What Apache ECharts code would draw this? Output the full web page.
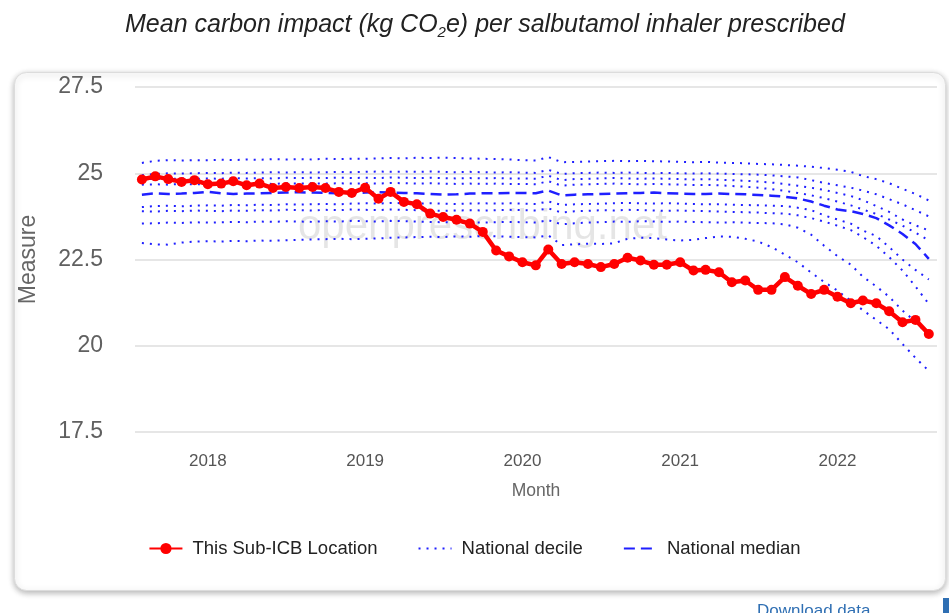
<!DOCTYPE html>
<html>
<head>
<meta charset="utf-8">
<script src="https://cdn.jsdelivr.net/npm/echarts@6/dist/echarts.min.js"></script>
<style>
  html, body { margin: 0; padding: 0; background: #fff; }
  #chart { width: 949px; height: 613px; }
</style>
</head>
<body>
<div id="chart"></div>
<script>
// months (first of month)
const months = [
  '2017-08', '2017-09', '2017-10', '2017-11', '2017-12',
  '2018-01', '2018-02', '2018-03', '2018-04', '2018-05', '2018-06', '2018-07', '2018-08', '2018-09', '2018-10', '2018-11', '2018-12',
  '2019-01', '2019-02', '2019-03', '2019-04', '2019-05', '2019-06', '2019-07', '2019-08', '2019-09', '2019-10', '2019-11', '2019-12',
  '2020-01', '2020-02', '2020-03', '2020-04', '2020-05', '2020-06', '2020-07', '2020-08', '2020-09', '2020-10', '2020-11', '2020-12',
  '2021-01', '2021-02', '2021-03', '2021-04', '2021-05', '2021-06', '2021-07', '2021-08', '2021-09', '2021-10', '2021-11', '2021-12',
  '2022-01', '2022-02', '2022-03', '2022-04', '2022-05', '2022-06', '2022-07', '2022-08'
];

// This Sub-ICB Location
const localValues = [
  24.82, 24.91, 24.83, 24.75, 24.80,
  24.68, 24.70, 24.77, 24.65, 24.70, 24.57, 24.60, 24.57, 24.60, 24.57, 24.46, 24.43,
  24.58, 24.26, 24.46, 24.17, 24.10, 23.83, 23.73, 23.65, 23.54, 23.30, 22.76, 22.59,
  22.42, 22.33, 22.79, 22.37, 22.42, 22.37, 22.28, 22.37, 22.55, 22.47, 22.35, 22.35,
  22.42, 22.18, 22.20, 22.13, 21.84, 21.89, 21.62, 21.62, 21.99, 21.74, 21.50, 21.62,
  21.42, 21.23, 21.31, 21.23, 21.00, 20.68, 20.75, 20.34
];

// national deciles
const p90 = [
  25.30, 25.36, 25.38, 25.37, 25.38,
  25.38, 25.39, 25.38, 25.40, 25.39, 25.41, 25.40, 25.41, 25.40, 25.42, 25.41, 25.42,
  25.42, 25.43, 25.44, 25.43, 25.45, 25.44, 25.45, 25.44, 25.43, 25.42, 25.41, 25.40,
  25.38, 25.37, 25.47, 25.32, 25.33, 25.34, 25.35, 25.36, 25.35, 25.36, 25.35, 25.34,
  25.33, 25.32, 25.33, 25.31, 25.30, 25.29, 25.27, 25.26, 25.24, 25.22, 25.19, 25.15,
  25.10, 25.04, 24.92, 24.83, 24.71, 24.55, 24.40, 24.21
];
const p80 = [
  24.94, 24.98, 25.00, 24.99, 25.00,
  25.01, 25.00, 25.02, 25.01, 25.02, 25.03, 25.02, 25.03, 25.02, 25.03, 25.04, 25.03,
  25.04, 25.05, 25.04, 25.05, 25.04, 25.05, 25.04, 25.03, 25.04, 25.03, 25.02, 25.03,
  25.02, 25.01, 25.10, 24.98, 25.00, 25.01, 25.02, 25.01, 25.02, 25.01, 25.00, 25.01,
  25.00, 24.99, 25.00, 24.99, 24.98, 24.97, 24.96, 24.94, 24.91, 24.88, 24.80, 24.72,
  24.65, 24.58, 24.50, 24.39, 24.25, 24.10, 23.93, 23.75
];
const p70 = [
  24.82, 24.84, 24.83, 24.85, 24.84,
  24.85, 24.84, 24.86, 24.85, 24.86, 24.85, 24.87, 24.86, 24.87, 24.86, 24.87, 24.86,
  24.87, 24.86, 24.88, 24.87, 24.86, 24.87, 24.86, 24.85, 24.86, 24.85, 24.86, 24.85,
  24.85, 24.84, 24.93, 24.80, 24.83, 24.84, 24.85, 24.86, 24.85, 24.84, 24.85, 24.84,
  24.83, 24.82, 24.83, 24.81, 24.80, 24.78, 24.76, 24.73, 24.69, 24.64, 24.58, 24.52,
  24.43, 24.34, 24.22, 24.05, 23.88, 23.66, 23.49, 23.34
];
const p60 = [
  24.67, 24.68, 24.67, 24.69, 24.68,
  24.69, 24.68, 24.70, 24.69, 24.70, 24.69, 24.71, 24.70, 24.71, 24.70, 24.71, 24.70,
  24.71, 24.70, 24.72, 24.71, 24.70, 24.71, 24.70, 24.69, 24.70, 24.69, 24.70, 24.69,
  24.69, 24.68, 24.77, 24.64, 24.67, 24.68, 24.69, 24.70, 24.69, 24.68, 24.69, 24.68,
  24.67, 24.66, 24.66, 24.65, 24.63, 24.61, 24.58, 24.54, 24.49, 24.43, 24.36, 24.28,
  24.18, 24.07, 23.95, 23.82, 23.66, 23.48, 23.28, 23.05
];
const p50 = [
  24.38, 24.42, 24.40, 24.41, 24.43,
  24.46, 24.42, 24.40, 24.41, 24.42, 24.43, 24.44, 24.45, 24.44, 24.43, 24.42, 24.43,
  24.44, 24.45, 24.44, 24.43, 24.42, 24.40, 24.38, 24.39, 24.41, 24.42, 24.42, 24.43,
  24.43, 24.42, 24.50, 24.36, 24.38, 24.39, 24.40, 24.41, 24.42, 24.43, 24.44, 24.42,
  24.41, 24.40, 24.40, 24.41, 24.40, 24.39, 24.37, 24.35, 24.32, 24.27, 24.18, 24.06,
  23.95, 23.90, 23.82, 23.70, 23.49, 23.24, 22.95, 22.52
];
const p40 = [
  24.02, 24.05, 24.06, 24.04, 24.06,
  24.07, 24.06, 24.08, 24.07, 24.09, 24.08, 24.10, 24.09, 24.10, 24.11, 24.10, 24.12,
  24.13, 24.12, 24.14, 24.13, 24.12, 24.13, 24.12, 24.11, 24.12, 24.13, 24.12, 24.13,
  24.12, 24.11, 24.18, 24.08, 24.10, 24.11, 24.12, 24.13, 24.14, 24.13, 24.12, 24.13,
  24.12, 24.11, 24.10, 24.10, 24.09, 24.08, 24.07, 24.06, 24.05, 24.00, 23.93, 23.78,
  23.66, 23.54, 23.34, 23.18, 22.86, 22.50, 22.20, 21.92
];
const p30 = [
  23.90, 23.89, 23.91, 23.90, 23.92,
  23.91, 23.90, 23.92, 23.91, 23.93, 23.92, 23.94, 23.93, 23.92, 23.94, 23.93, 23.95,
  23.94, 23.93, 23.95, 23.94, 23.93, 23.92, 23.91, 23.92, 23.93, 23.92, 23.93, 23.94,
  23.93, 23.92, 23.98, 23.86, 23.90, 23.91, 23.93, 23.92, 23.94, 23.93, 23.92, 23.91,
  23.92, 23.91, 23.90, 23.89, 23.88, 23.87, 23.86, 23.84, 23.83, 23.78, 23.70, 23.60,
  23.48, 23.35, 23.15, 22.90, 22.57, 22.18, 21.72, 21.21
];
const p20 = [
  23.54, 23.55, 23.57, 23.56, 23.58,
  23.57, 23.58, 23.59, 23.58, 23.60, 23.59, 23.61, 23.60, 23.59, 23.61, 23.60, 23.62,
  23.61, 23.60, 23.62, 23.61, 23.60, 23.59, 23.58, 23.57, 23.58, 23.57, 23.58, 23.59,
  23.58, 23.57, 23.64, 23.52, 23.55, 23.57, 23.58, 23.60, 23.59, 23.61, 23.60, 23.59,
  23.60, 23.59, 23.58, 23.57, 23.58, 23.57, 23.56, 23.55, 23.52, 23.42, 23.22, 22.90,
  22.60, 22.35, 22.00, 21.72, 21.42, 21.02, 20.70, 20.30
];
const p10 = [
  22.98, 22.94, 22.93, 22.99, 23.02,
  23.03, 23.02, 23.04, 23.03, 23.05, 23.04, 23.06, 23.07, 23.08, 23.09, 23.10, 23.09,
  23.10, 23.11, 23.13, 23.14, 23.15, 23.16, 23.15, 23.17, 23.16, 23.18, 23.17, 23.16,
  23.15, 23.14, 23.20, 22.92, 22.94, 22.96, 22.95, 22.97, 23.10, 23.13, 23.12, 23.08,
  23.05, 23.07, 23.12, 23.17, 23.16, 23.10, 23.02, 22.86, 22.64, 22.42, 22.12, 21.85,
  21.60, 21.30, 21.03, 20.75, 20.48, 20.05, 19.65, 19.27
];

const yTicks = { min: 17.5, max: 27.5, step: 2.5 };

function pairs(vals) {
  return months.map((m, i) => [m + '-01', vals[i]]);
}

const myChart = echarts.init(document.getElementById('chart'));

const blue = '#1f1fff';
const decileStyle = { color: blue, width: 2, type: [2, 6] };
const deciles = [p90, p80, p70, p60, p40, p30, p20, p10].map(vals => ({
  name: 'National decile',
  type: 'line',
  symbol: 'none',
  silent: true,
  z: 2,
  lineStyle: decileStyle,
  itemStyle: { color: blue },
  data: pairs(vals)
}));

const font = 'Liberation Sans, Arial, sans-serif';
const noDot = { color: 'rgba(0,0,0,0)', borderWidth: 0 };

let option = {
  animation: false,
  textStyle: { fontFamily: font },
  title: {
    text: '{a|Mean carbon impact (kg CO}{s|2}{a|e) per salbutamol inhaler prescribed}',
    left: 120,
    top: 5,
    textStyle: {
      rich: {
        a: { fontSize: 25, fontStyle: 'italic', fontWeight: 'normal', fontFamily: font, color: '#222', lineHeight: 30 },
        s: { fontSize: 15, fontStyle: 'italic', fontWeight: 'normal', fontFamily: font, color: '#222', lineHeight: 15, verticalAlign: 'bottom' }
      }
    }
  },
  graphic: [
    {
      type: 'rect',
      left: 14, top: 72, z: -10,
      shape: { width: 931, height: 518, r: 12 },
      style: { fill: '#fff', stroke: '#dcdcdc', lineWidth: 1, shadowBlur: 6, shadowOffsetY: 2, shadowColor: 'rgba(0,0,0,0.3)' }
    },
    {
      type: 'text',
      left: 298, top: 206, z: 1,
      style: { text: 'openprescribing.net', font: '42px ' + font, fill: 'rgba(0,0,0,0.1)' }
    },
    {
      type: 'text',
      left: 757, top: 603, z: 1,
      style: { text: 'Download data', font: '17px ' + font, fill: '#2f6fb3' }
    },
    {
      type: 'rect',
      left: 943, top: 598, z: 1,
      shape: { width: 6, height: 15 },
      style: { fill: '#2f6fb3' }
    }
  ],
  legend: {
    left: 'center',
    top: 534,
    itemWidth: 33,
    itemHeight: 14,
    itemGap: 40,
    textStyle: { fontSize: 18.5, color: '#222', fontFamily: font, padding: [0, 0, 0, 5] },
    data: [
      { name: 'This Sub-ICB Location' },
      { name: 'National decile', itemStyle: noDot },
      { name: 'National median', itemStyle: noDot }
    ]
  },
  grid: { left: 135, right: 12, top: 87, bottom: 181 },
  xAxis: {
    type: 'time',
    min: new Date(2017, 6, 16).getTime(),
    max: new Date(2022, 7, 20).getTime(),
    minInterval: 365 * 24 * 3600 * 1000,
    name: 'Month',
    nameLocation: 'middle',
    nameGap: 50,
    nameTextStyle: { fontSize: 17.5, color: '#666', fontFamily: font },
    axisLine: { show: false },
    axisTick: { show: false },
    splitLine: { show: false },
    axisLabel: {
      margin: 21,
      fontSize: 17,
      color: '#555',
      fontFamily: font,
      formatter: function (v) {
        const d = new Date(v);
        return (d.getMonth() === 0 && d.getDate() === 1) ? String(d.getFullYear()) : '';
      }
    }
  },
  yAxis: {
    type: 'value',
    min: yTicks.min,
    max: yTicks.max,
    interval: yTicks.step,
    name: 'Measure',
    nameLocation: 'middle',
    nameGap: 95,
    nameTextStyle: { fontSize: 23, color: '#666', fontFamily: font },
    axisLine: { show: false },
    axisTick: { show: false },
    axisLabel: { margin: 32, fontSize: 23, color: '#606060', fontFamily: font },
    splitLine: { lineStyle: { color: '#e6e6e6', width: 2 } }
  },
  series: deciles.concat([
    {
      name: 'National median',
      type: 'line',
      symbol: 'none',
      silent: true,
      z: 3,
      lineStyle: { color: blue, width: 2.5, type: [11, 6] },
      itemStyle: { color: blue },
      data: pairs(p50)
    },
    {
      name: 'This Sub-ICB Location',
      type: 'line',
      symbol: 'circle',
      symbolSize: 10,
      z: 5,
      lineStyle: { color: '#ff0000', width: 4.5 },
      itemStyle: { color: '#ff0000' },
      data: pairs(localValues)
    }
  ])
};

myChart.setOption(option);
window.addEventListener('resize', () => myChart.resize(), false);
</script>
</body>
</html>
